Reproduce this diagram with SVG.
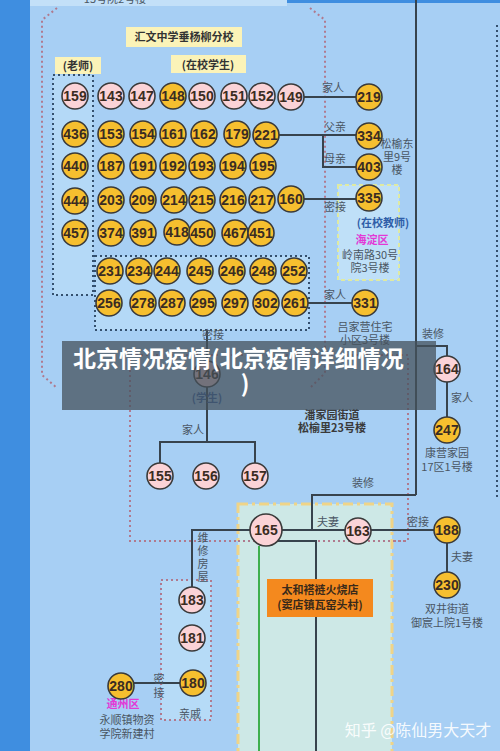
<svg xmlns="http://www.w3.org/2000/svg" width="500" height="751" viewBox="0 0 500 751">
<style>
.p{fill:#fbd3d7;stroke:#3a3a3a;stroke-width:1.6}
.o{fill:#f6bf2f;stroke:#3a3a3a;stroke-width:1.6}
.n{font-family:"Liberation Sans",Arial,sans-serif;font-weight:bold;font-size:14px;fill:#3a2c22;text-anchor:middle}
.l{font-family:"Noto Sans CJK SC","Noto Sans",sans-serif;font-size:11px;fill:#4a5663;text-anchor:middle}
.b{font-family:"Noto Sans CJK SC","Noto Sans",sans-serif;font-size:11px;font-weight:bold;text-anchor:middle}
.ln{fill:none;stroke:#37434d;stroke-width:2}
.pd{fill:none;stroke:#b07a8e;stroke-width:2;stroke-dasharray:2 3}
.nd{fill:none;stroke:#34506e;stroke-width:2;stroke-dasharray:2 3}
</style>
<rect x="0" y="0" width="500" height="751" fill="#a7cff4"/>
<rect x="0" y="0" width="30" height="751" fill="#3f8ee0"/>
<rect x="30" y="0" width="257" height="6" fill="#c3e0f8"/>
<text x="115" y="3" class="l">15号院2号楼</text>
<rect x="287" y="0" width="213" height="3" fill="#3f8ee0"/>
<g id="frames">
<rect x="53" y="75" width="40" height="220" fill="#b4d9f7"/>
<rect x="53" y="75" width="40" height="220" class="nd"/>
<rect x="95" y="256" width="214" height="74" fill="#b4d9f7"/>
<rect x="95" y="256" width="214" height="74" class="nd"/>
<path d="M57 8 L42 20 L42 375 L57 388" class="pd"/>
<path d="M310 8 L325 20 L325 373 L310 388" class="pd"/>
<line x1="497" y1="25" x2="497" y2="500" class="nd"/>
<rect x="338" y="185" width="61" height="95" fill="#bfe0f8" stroke="#dfeaa2" stroke-width="2" stroke-dasharray="4 3"/>
<path d="M130 355 L130 541 L408 541 L408 355 Z" class="pd"/>
<rect x="238" y="504" width="154" height="260" fill="#cde8e6" stroke="#efd488" stroke-width="3" stroke-dasharray="10 4 3 4"/>
<line x1="238" y1="541" x2="408" y2="541" class="pd"/>
<rect x="161" y="580" width="50" height="140" fill="#b6dbf7"/>
<rect x="161" y="580" width="50" height="140" class="pd"/>
</g>
<g id="connectors">
<line x1="416" y1="0" x2="416" y2="495" class="ln"/>
<polyline points="416,495 312,495 312,530" class="ln"/>
<polyline points="416,346 447,346 447,356" class="ln"/>
<line x1="447" y1="382" x2="447" y2="417" class="ln"/>
<line x1="304" y1="97" x2="356" y2="97" class="ln"/>
<line x1="279" y1="135" x2="356" y2="135" class="ln"/>
<polyline points="323,135 323,167 356,167" class="ln"/>
<line x1="304" y1="199" x2="356" y2="199" class="ln"/>
<line x1="308" y1="303" x2="352" y2="303" class="ln"/>
<line x1="207" y1="330" x2="207" y2="441" class="ln"/>
<polyline points="160,463 160,442 255,442 255,463" class="ln"/>
<line x1="282" y1="530" x2="434" y2="530" class="ln"/>
<polyline points="250,530 192,530 192,587" class="ln"/>
<polyline points="278,541 316,541 316,751" class="ln"/>
<line x1="259" y1="546" x2="259" y2="751" stroke="#3daf4d" stroke-width="2"/>
<line x1="447" y1="543" x2="447" y2="572" class="ln"/>
<line x1="134" y1="683" x2="180" y2="683" class="ln"/>
</g>
<g id="labels">
<rect x="126" y="27" width="116" height="20" fill="#fbf3b8"/>
<text x="184" y="41" class="b" fill="#333">汇文中学垂杨柳分校</text>
<rect x="55" y="57" width="46" height="17" fill="#fbf3b8"/>
<text x="78" y="70" class="b" fill="#333">(老师)</text>
<rect x="171" y="55" width="75" height="18" fill="#fbf3b8"/>
<text x="208" y="69" class="b" fill="#333">(在校学生)</text>
<text x="333" y="92" class="l">家人</text>
<text x="335" y="131" class="l">父亲</text>
<text x="335" y="163" class="l">母亲</text>
<text x="397" y="148" class="l">松榆东</text>
<text x="397" y="161" class="l">里9号</text>
<text x="397" y="174" class="l">楼</text>
<text x="335" y="211" class="l">密接</text>
<text x="383" y="227" class="b" fill="#2f5ea8">(在校教师)</text>
<text x="372" y="244" class="b" fill="#e23ad6">海淀区</text>
<text x="370" y="259" class="l">岭南路30号</text>
<text x="370" y="272" class="l">院3号楼</text>
<text x="335" y="299" class="l">家人</text>
<text x="365" y="331" class="l">吕家营住宅</text>
<text x="365" y="344" class="l">小区3号楼</text>
<text x="433" y="338" class="l">装修</text>
<text x="213" y="339" class="l">密接</text>
<text x="462" y="402" class="l">家人</text>
<text x="447" y="457" class="l">康营家园</text>
<text x="447" y="471" class="l">17区1号楼</text>
<text x="207" y="402" class="b" fill="#2f5ea8">(学生)</text>
<text x="332" y="419" class="b" fill="#3a3a3a">潘家园街道</text>
<text x="332" y="432" class="b" fill="#3a3a3a">松榆里23号楼</text>
<text x="193" y="434" class="l">家人</text>
<text x="363" y="487" class="l">装修</text>
<text x="328" y="526" class="l">夫妻</text>
<text x="418" y="526" class="l">密接</text>
<text x="462" y="561" class="l">夫妻</text>
<text x="447" y="613" class="l">双井街道</text>
<text x="447" y="627" class="l">御宸上院1号楼</text>
<text x="203" y="542" class="l">维</text>
<text x="203" y="555" class="l">修</text>
<text x="203" y="568" class="l">房</text>
<text x="203" y="581" class="l">屋</text>
<rect x="267" y="579" width="106" height="38" fill="#f4891e"/>
<text x="320" y="594" class="b" fill="#3a2a1a">太和褡裢火烧店</text>
<text x="320" y="609" class="b" fill="#3a2a1a">(窦店镇瓦窑头村)</text>
<text x="159" y="683" class="l">密</text>
<text x="159" y="697" class="l">接</text>
<text x="190" y="718" class="l">亲戚</text>
<text x="123" y="708" class="b" fill="#e23ad6">通州区</text>
<text x="127" y="724" class="l">永顺镇物资</text>
<text x="127" y="738" class="l">学院新建村</text>
</g>
<g id="n159"><circle cx="75" cy="96" r="13" class="p"/><text x="75" y="101" class="n">159</text></g>
<g id="n436"><circle cx="75" cy="134" r="13" class="o"/><text x="75" y="139" class="n">436</text></g>
<g id="n440"><circle cx="75" cy="166" r="13" class="o"/><text x="75" y="171" class="n">440</text></g>
<g id="n444"><circle cx="75" cy="201" r="13" class="o"/><text x="75" y="206" class="n">444</text></g>
<g id="n457"><circle cx="75" cy="233" r="13" class="o"/><text x="75" y="238" class="n">457</text></g>
<g id="n143"><circle cx="111" cy="96" r="13" class="p"/><text x="111" y="101" class="n">143</text></g>
<g id="n147"><circle cx="142" cy="96" r="13" class="p"/><text x="142" y="101" class="n">147</text></g>
<g id="n148"><circle cx="173" cy="96" r="13" class="o"/><text x="173" y="101" class="n">148</text></g>
<g id="n150"><circle cx="202" cy="96" r="13" class="p"/><text x="202" y="101" class="n">150</text></g>
<g id="n151"><circle cx="234" cy="96" r="13" class="p"/><text x="234" y="101" class="n">151</text></g>
<g id="n152"><circle cx="262" cy="96" r="13" class="p"/><text x="262" y="101" class="n">152</text></g>
<g id="n149"><circle cx="291" cy="97" r="13" class="p"/><text x="291" y="102" class="n">149</text></g>
<g id="n153"><circle cx="111" cy="134" r="13" class="o"/><text x="111" y="139" class="n">153</text></g>
<g id="n154"><circle cx="143" cy="134" r="13" class="o"/><text x="143" y="139" class="n">154</text></g>
<g id="n161"><circle cx="173" cy="134" r="13" class="o"/><text x="173" y="139" class="n">161</text></g>
<g id="n162"><circle cx="204" cy="134" r="13" class="o"/><text x="204" y="139" class="n">162</text></g>
<g id="n179"><circle cx="237" cy="134" r="13" class="o"/><text x="237" y="139" class="n">179</text></g>
<g id="n221"><circle cx="266" cy="135" r="13" class="o"/><text x="266" y="140" class="n">221</text></g>
<g id="n187"><circle cx="111" cy="166" r="13" class="o"/><text x="111" y="171" class="n">187</text></g>
<g id="n191"><circle cx="143" cy="166" r="13" class="o"/><text x="143" y="171" class="n">191</text></g>
<g id="n192"><circle cx="173" cy="166" r="13" class="o"/><text x="173" y="171" class="n">192</text></g>
<g id="n193"><circle cx="202" cy="166" r="13" class="o"/><text x="202" y="171" class="n">193</text></g>
<g id="n194"><circle cx="233" cy="166" r="13" class="o"/><text x="233" y="171" class="n">194</text></g>
<g id="n195"><circle cx="263" cy="166" r="13" class="o"/><text x="263" y="171" class="n">195</text></g>
<g id="n203"><circle cx="111" cy="200" r="13" class="o"/><text x="111" y="205" class="n">203</text></g>
<g id="n209"><circle cx="143" cy="200" r="13" class="o"/><text x="143" y="205" class="n">209</text></g>
<g id="n214"><circle cx="174" cy="200" r="13" class="o"/><text x="174" y="205" class="n">214</text></g>
<g id="n215"><circle cx="202" cy="200" r="13" class="o"/><text x="202" y="205" class="n">215</text></g>
<g id="n216"><circle cx="233" cy="200" r="13" class="o"/><text x="233" y="205" class="n">216</text></g>
<g id="n217"><circle cx="262" cy="200" r="13" class="o"/><text x="262" y="205" class="n">217</text></g>
<g id="n160"><circle cx="291" cy="199" r="13" class="o"/><text x="291" y="204" class="n">160</text></g>
<g id="n374"><circle cx="111" cy="233" r="13" class="o"/><text x="111" y="238" class="n">374</text></g>
<g id="n391"><circle cx="143" cy="233" r="13" class="o"/><text x="143" y="238" class="n">391</text></g>
<g id="n418"><circle cx="177" cy="232" r="13" class="o"/><text x="177" y="237" class="n">418</text></g>
<g id="n450"><circle cx="202" cy="233" r="13" class="o"/><text x="202" y="238" class="n">450</text></g>
<g id="n467"><circle cx="235" cy="233" r="13" class="o"/><text x="235" y="238" class="n">467</text></g>
<g id="n451"><circle cx="261" cy="233" r="13" class="o"/><text x="261" y="238" class="n">451</text></g>
<g id="n231"><circle cx="110" cy="271" r="13" class="o"/><text x="110" y="276" class="n">231</text></g>
<g id="n234"><circle cx="139" cy="271" r="13" class="o"/><text x="139" y="276" class="n">234</text></g>
<g id="n244"><circle cx="167" cy="271" r="13" class="o"/><text x="167" y="276" class="n">244</text></g>
<g id="n245"><circle cx="200" cy="271" r="13" class="o"/><text x="200" y="276" class="n">245</text></g>
<g id="n246"><circle cx="232" cy="271" r="13" class="o"/><text x="232" y="276" class="n">246</text></g>
<g id="n248"><circle cx="263" cy="271" r="13" class="o"/><text x="263" y="276" class="n">248</text></g>
<g id="n252"><circle cx="294" cy="271" r="13" class="o"/><text x="294" y="276" class="n">252</text></g>
<g id="n256"><circle cx="109" cy="303" r="13" class="o"/><text x="109" y="308" class="n">256</text></g>
<g id="n278"><circle cx="143" cy="303" r="13" class="o"/><text x="143" y="308" class="n">278</text></g>
<g id="n287"><circle cx="172" cy="303" r="13" class="o"/><text x="172" y="308" class="n">287</text></g>
<g id="n295"><circle cx="203" cy="303" r="13" class="o"/><text x="203" y="308" class="n">295</text></g>
<g id="n297"><circle cx="235" cy="303" r="13" class="o"/><text x="235" y="308" class="n">297</text></g>
<g id="n302"><circle cx="266" cy="303" r="13" class="o"/><text x="266" y="308" class="n">302</text></g>
<g id="n261"><circle cx="295" cy="303" r="13" class="o"/><text x="295" y="308" class="n">261</text></g>
<g id="n219"><circle cx="369" cy="97" r="13" class="o"/><text x="369" y="102" class="n">219</text></g>
<g id="n334"><circle cx="369" cy="136" r="13" class="o"/><text x="369" y="141" class="n">334</text></g>
<g id="n403"><circle cx="369" cy="167" r="13" class="o"/><text x="369" y="172" class="n">403</text></g>
<g id="n335"><circle cx="369" cy="198" r="13" class="o"/><text x="369" y="203" class="n">335</text></g>
<g id="n331"><circle cx="365" cy="303" r="13" class="o"/><text x="365" y="308" class="n">331</text></g>
<g id="n146"><circle cx="207" cy="374" r="13" class="p"/><text x="207" y="379" class="n">146</text></g>
<g id="n155"><circle cx="160" cy="476" r="13" class="p"/><text x="160" y="481" class="n">155</text></g>
<g id="n156"><circle cx="206" cy="476" r="13" class="p"/><text x="206" y="481" class="n">156</text></g>
<g id="n157"><circle cx="255" cy="476" r="13" class="p"/><text x="255" y="481" class="n">157</text></g>
<g id="n164"><circle cx="447" cy="369" r="13" class="p"/><text x="447" y="374" class="n">164</text></g>
<g id="n247"><circle cx="447" cy="430" r="13" class="o"/><text x="447" y="435" class="n">247</text></g>
<g id="n165"><circle cx="266" cy="530" r="16" class="p"/><text x="266" y="535" class="n">165</text></g>
<g id="n163"><circle cx="358" cy="531" r="13" class="p"/><text x="358" y="536" class="n">163</text></g>
<g id="n188"><circle cx="447" cy="530" r="13" class="o"/><text x="447" y="535" class="n">188</text></g>
<g id="n230"><circle cx="447" cy="585" r="13" class="o"/><text x="447" y="590" class="n">230</text></g>
<g id="n183"><circle cx="192" cy="600" r="13" class="p"/><text x="192" y="605" class="n">183</text></g>
<g id="n181"><circle cx="192" cy="638" r="13" class="p"/><text x="192" y="643" class="n">181</text></g>
<g id="n180"><circle cx="193" cy="683" r="13" class="o"/><text x="193" y="688" class="n">180</text></g>
<g id="n280"><circle cx="121" cy="686" r="13" class="o"/><text x="121" y="691" class="n">280</text></g>
<g id="overlay">
<rect x="62" y="341" width="374" height="69" fill="#46515c" fill-opacity="0.75"/>
<text x="73" y="367" font-family="Noto Sans CJK SC,sans-serif" font-weight="bold" font-size="23" fill="#ffffff">北京情况疫情(北京疫情详细情况</text>
<text x="245" y="392" font-family="Noto Sans CJK SC,sans-serif" font-weight="bold" font-size="23" fill="#ffffff" text-anchor="middle">)</text>
</g>
<text x="418" y="736" font-family="Noto Sans CJK SC,sans-serif" font-size="16" fill="#ffffff" fill-opacity="0.9" text-anchor="middle">知乎 @陈仙男大天才</text>
</svg>
